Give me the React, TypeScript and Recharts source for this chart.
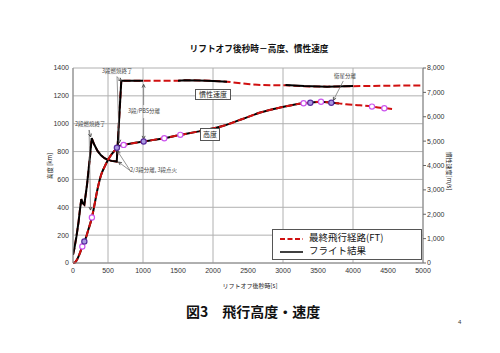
import React from 'react';
import { ComposedChart, Line, XAxis, YAxis, CartesianGrid } from 'recharts';

// altitude [km] vs time after lift-off [s]
const altTime = [0, 30, 57, 90, 133, 162, 176, 220, 270, 300, 350, 400, 450, 500, 550, 600, 627, 660, 723, 850, 1009, 1150, 1304, 1533, 1800, 2150, 2400, 2676, 2950, 3294, 3390, 3543, 3690, 3800, 3900, 4100, 4271, 4447, 4580];
const altPlan = [0, 5, 24, 60, 119, 155, 170, 240, 327, 400, 530, 630, 690, 740, 780, 810, 828, 840, 848, 860, 872, 884, 896, 920, 945, 985, 1030, 1080, 1115, 1147, 1151, 1158, 1150, 1146, 1140, 1132, 1123, 1111, 1104];
const altFlight = [0, 5, 24, 60, 119, 155, 170, 240, 327, 400, 530, 630, 690, 740, 780, 810, 828, 840, 848, 860, 872, 884, 896, 920, 945, 985, 1030, 1080, 1115, 1147, 1151, 1158, 1150, 1146, null, null, null, null, null];

// inertial velocity [m/s]
const velTime = [0, 20, 50, 80, 100, 119, 140, 162, 200, 240, 267, 300, 350, 400, 450, 500, 550, 625, 690, 850, 1000, 1250, 1500, 1600, 1800, 2000, 2200, 2530, 2676, 3035, 3300, 3630, 4000, 4500, 5000];
const velPlan = [340, 600, 1100, 1700, 2200, 2620, 2450, 2390, 3200, 4300, 5120, 4880, 4600, 4420, 4300, 4230, 4190, 4160, 7480, 7480, 7475, 7475, 7480, 7500, 7490, 7470, 7440, 7330, 7300, 7290, 7250, 7235, 7255, 7275, 7285];
const velFlight = [340, 600, 1100, 1700, 2200, 2620, 2450, 2390, 3200, 4300, 5120, 4880, 4600, 4420, 4300, 4230, 4190, 4160, 7480, 7480, 7475, null, 7480, 7500, 7490, 7470, 7440, null, null, 7300, 7260, 7235, 7260, null, null];

// event markers on the altitude curve
const markLightT = [133, 270, 723, 1304, 1533, 3294, 3543, 4271, 4447];
const markLightAlt = [119, 327, 848, 896, 920, 1147, 1158, 1123, 1111];
const markDarkT = [162, 627, 1009, 3390, 3690];
const markDarkAlt = [155, 828, 872, 1151, 1150];

const xTicks = [0, 500, 1000, 1500, 2000, 2500, 3000, 3500, 4000, 4500, 5000];
const altTicks = [0, 200, 400, 600, 800, 1000, 1200, 1400];
const velTicks = [0, 1000, 2000, 3000, 4000, 5000, 6000, 7000, 8000];

// annotation arrows: [start, end] in (time, altitude-axis) units
const arrows = [
  [[230, 955], [252, 905]],
  [[230, 955], [250, 380]],
  [[629, 1338], [690, 1306]],
  [[629, 1338], [662, 862]],
  [[1009, 1134], [1009, 1282]],
  [[1009, 1040], [1009, 890]],
  [[819, 662], [650, 725]],
  [[819, 662], [634, 805]],
  [[3861, 1307], [3719, 1168]],
];

const altData = altTime.map((t, i) => ({ t, plan: altPlan[i], flight: altFlight[i] }));
const velData = velTime.map((t, i) => ({ t, plan: velPlan[i], flight: velFlight[i] }));
const lightMarks = markLightT.map((t, i) => ({ t, alt: markLightAlt[i] }));
const darkMarks = markDarkT.map((t, i) => ({ t, alt: markDarkAlt[i] }));
const arrowData = arrows.map((seg) => seg.map(([t, alt]) => ({ t, alt })));

const jp = '"Noto Sans CJK JP", sans-serif';
const tickStyle = { fontSize: 7, fill: '#333', fontFamily: '"Liberation Sans", Arial, sans-serif' };

const ArrowHead = (props: any) => {
  const { cx, cy, index, points } = props;
  if (index !== 1 || !points || points.length < 2 || cx == null) return <g key={`h${index}`} />;
  const a = Math.atan2(cy - points[0].y, cx - points[0].x);
  const s = 3.5;
  const p1 = [cx - s * Math.cos(a - 0.45), cy - s * Math.sin(a - 0.45)];
  const p2 = [cx - s * Math.cos(a + 0.45), cy - s * Math.sin(a + 0.45)];
  return (
    <polyline key={`h${index}`} points={`${p1[0]},${p1[1]} ${cx},${cy} ${p2[0]},${p2[1]}`}
      fill="none" stroke="#444" strokeWidth={0.9} />
  );
};

const note = (text: string, left: number, top: number) => (
  <div style={{ position: 'absolute', left, top, fontSize: 5.5, color: '#444', fontFamily: jp, whiteSpace: 'nowrap', lineHeight: 1 }}>{text}</div>
);

const App = () => (
  <div style={{ position: 'absolute', left: 0, top: 0, width: 500, height: 353, background: '#fff', fontFamily: jp }}>
    <div style={{ position: 'absolute', left: 0, width: 518, top: 45, textAlign: 'center', fontSize: 8.7, fontWeight: 'bold', color: '#111', lineHeight: 1 }}>
      リフトオフ後秒時－高度、慣性速度
    </div>
    <ComposedChart width={500} height={353} margin={{ top: 68, right: 0, bottom: 70, left: 0 }}>
      <CartesianGrid yAxisId="left" stroke="#b0b0b0" strokeWidth={1} horizontalValues={altTicks} verticalValues={xTicks} />
      <XAxis dataKey="t" type="number" domain={[0, 5000]} ticks={xTicks} height={20} tick={tickStyle}
        tickSize={3} tickMargin={2} axisLine={{ stroke: '#888' }} tickLine={false} allowDataOverflow />
      <YAxis yAxisId="left" type="number" domain={[0, 1400]} ticks={altTicks} width={73} tick={tickStyle}
        tickSize={3} tickMargin={1} axisLine={{ stroke: '#888' }} tickLine={false} />
      <YAxis yAxisId="right" orientation="right" type="number" domain={[0, 8000]} ticks={velTicks} width={77}
        tick={tickStyle} tickSize={3} tickMargin={1} axisLine={{ stroke: '#888' }} tickLine={{ stroke: '#666' }}
        tickFormatter={(v: number) => v.toLocaleString('en-US')} />
      <Line yAxisId="right" data={velData} dataKey="plan" type="linear" stroke="#d01010" strokeWidth={2}
        strokeDasharray="7 3" dot={false} isAnimationActive={false} />
      <Line yAxisId="right" data={velData} dataKey="flight" type="linear" stroke="#000" strokeWidth={2}
        dot={false} isAnimationActive={false} />
      <Line yAxisId="left" data={altData} dataKey="flight" type="monotone" stroke="#000" strokeWidth={2}
        dot={false} isAnimationActive={false} />
      <Line yAxisId="left" data={altData} dataKey="plan" type="monotone" stroke="#d01010" strokeWidth={2}
        strokeDasharray="7 3" dot={false} isAnimationActive={false} />
      {arrowData.map((d, i) => (
        <Line key={`a${i}`} yAxisId="left" data={d} dataKey="alt" type="linear" stroke="#666" strokeWidth={0.7}
          dot={ArrowHead} activeDot={false} isAnimationActive={false} />
      ))}
      <Line yAxisId="left" data={lightMarks} dataKey="alt" stroke="none" isAnimationActive={false}
        dot={{ r: 2.6, stroke: '#cc55ee', strokeWidth: 1.2, fill: '#fff' }} />
      <Line yAxisId="left" data={darkMarks} dataKey="alt" stroke="none" isAnimationActive={false}
        dot={{ r: 2.6, stroke: '#5a2ca0', strokeWidth: 1.2, fill: '#a898e0' }} />
    </ComposedChart>

    {note('2段燃焼終了', 75, 122)}
    {note('3段燃焼終了', 102, 69)}
    {note('3段/PBS分離', 128, 109)}
    {note('2/3段分離, 3段点火', 130, 168)}
    {note('衛星分離', 334, 74)}

    <div style={{ position: 'absolute', left: 195, top: 89, width: 34, height: 9, border: '1px solid #555', background: '#fff', fontSize: 7, lineHeight: '9px', textAlign: 'center', color: '#222' }}>慣性速度</div>
    <div style={{ position: 'absolute', left: 200, top: 128, width: 18, height: 11, border: '1px solid #555', background: '#fff', fontSize: 7, lineHeight: '11px', textAlign: 'center', color: '#222' }}>高度</div>

    <div style={{ position: 'absolute', left: 272, top: 229, width: 148, height: 29, border: '1px solid #555', background: '#fff' }}>
      <svg width={148} height={29} style={{ position: 'absolute', left: 0, top: 0 }}>
        <line x1={7} y1={9} x2={30} y2={9} stroke="#d01010" strokeWidth={2} strokeDasharray="5 2.5" />
        <line x1={7} y1={22} x2={30} y2={22} stroke="#000" strokeWidth={1.5} />
      </svg>
      <div style={{ position: 'absolute', left: 36, top: 3, fontSize: 9.5, lineHeight: 1, color: '#111', whiteSpace: 'nowrap' }}>最終飛行経路(FT)</div>
      <div style={{ position: 'absolute', left: 36, top: 16, fontSize: 9.5, lineHeight: 1, color: '#111', whiteSpace: 'nowrap' }}>フライト結果</div>
    </div>

    <div style={{ position: 'absolute', left: 49, top: 166, transform: 'translate(-50%,-50%) rotate(-90deg)', fontSize: 6, color: '#222', whiteSpace: 'nowrap' }}>高度 [km]</div>
    <div style={{ position: 'absolute', left: 449, top: 171, transform: 'translate(-50%,-50%) rotate(90deg)', fontSize: 6, color: '#222', whiteSpace: 'nowrap' }}>慣性速度[m/s]</div>
    <div style={{ position: 'absolute', left: 0, width: 500, top: 283, textAlign: 'center', fontSize: 6, color: '#222', lineHeight: 1 }}>リフトオフ後秒時[s]</div>

    <div style={{ position: 'absolute', left: 186, top: 304, fontSize: 14, fontWeight: 'bold', color: '#111', lineHeight: 1, whiteSpace: 'nowrap' }}>図3　飛行高度・速度</div>
    <div style={{ position: 'absolute', left: 458, top: 319, fontSize: 6, color: '#333', fontFamily: 'Arial, sans-serif' }}>4</div>
  </div>
);

export default App;
